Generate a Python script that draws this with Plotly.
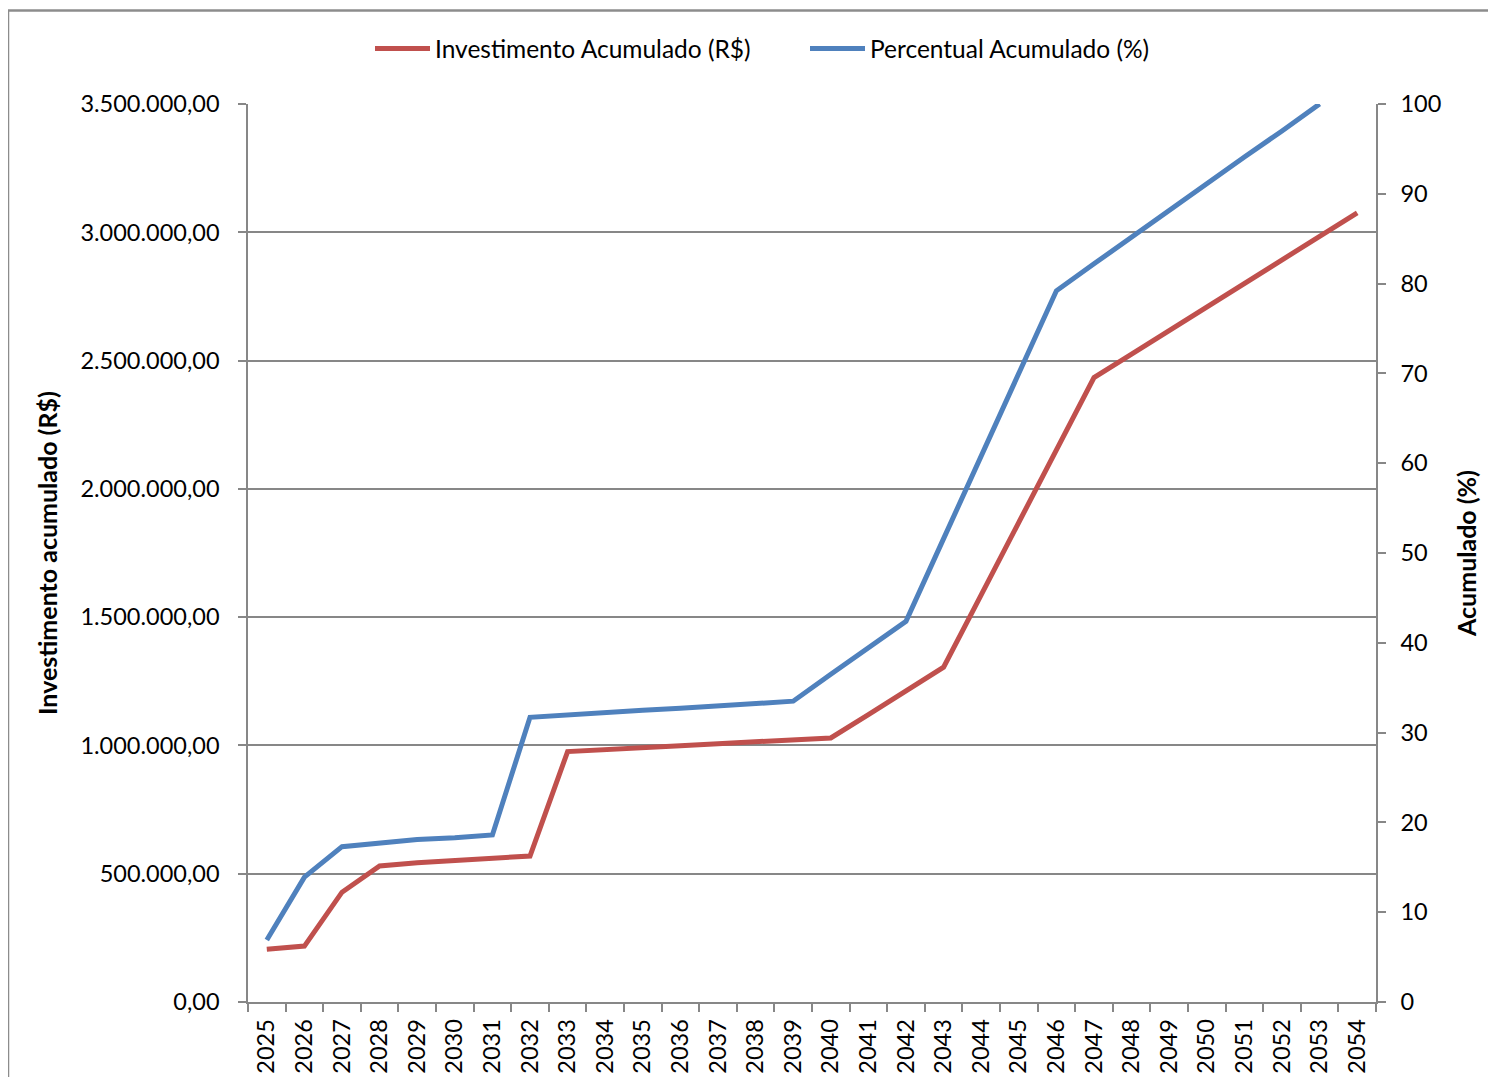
import plotly.graph_objects as go

years = [str(y) for y in range(2025, 2055)]

investimento = [
    206000, 218000, 428000, 530000, 543000, 553000, 561000, 569000,
    976000, 985000, 992000, 999000, 1007000, 1014000, 1021000, 1029000,
    1120000, 1212000, 1305000, 1587000, 1869000, 2150000, 2434000,
    2525000, 2616000, 2708000, 2800000, 2892000, 2984000, 3076000,
]

percentual = [
    6.9, 13.9, 17.3, 17.7, 18.1, 18.3, 18.6, 31.7,
    32.0, 32.2, 32.5, 32.7, 33.0, 33.2, 33.5, 36.5,
    39.5, 42.4, 51.6, 60.8, 70.0, 79.2, 82.2,
    85.2, 88.1, 91.1, 94.1, 97.0, 100.0, None,
]

left_ticks = [0, 500000, 1000000, 1500000, 2000000, 2500000, 3000000, 3500000]
right_ticks = list(range(0, 101, 10))

RED = "#C0504D"
BLUE = "#4F81BD"
GRID = "#878787"
FONT = "Lato, 'Open Sans', sans-serif"

fig = go.Figure()
fig.add_trace(go.Scatter(
    x=years, y=investimento, name="Investimento Acumulado (R$)",
    mode="lines", line=dict(color=RED, width=5), yaxis="y",
))
fig.add_trace(go.Scatter(
    x=years, y=percentual, name="Percentual Acumulado (%)",
    mode="lines", line=dict(color=BLUE, width=5), yaxis="y2",
))

W, H = 1480, 1069
ML, MR, MT, MB = 240, 112, 96, 75
pw = W - ML - MR
ph = H - MT - MB

def px_to_paper_x(px):
    return (px - ML) / pw

def px_to_paper_y(py):
    return (H - MB - py) / ph

fig.update_layout(
    width=W, height=H,
    margin=dict(l=ML, r=MR, t=MT, b=MB, autoexpand=False),
    paper_bgcolor="white", plot_bgcolor="white",
    separators=",.",
    font=dict(family=FONT, size=23, color="#000000"),
    showlegend=True,
    legend=dict(
        orientation="h", x=px_to_paper_x(362), y=px_to_paper_y(18),
        xanchor="left", yanchor="top",
        font=dict(family=FONT, size=24.5),
        entrywidth=365, itemwidth=55,
        bgcolor="rgba(0,0,0,0)",
    ),
    xaxis=dict(
        type="category", categoryorder="array", categoryarray=years,
        range=[-0.5, len(years) - 0.5], automargin=False,
        tickmode="array", tickvals=years, ticktext=years,
        tickangle=-90, tickson="boundaries",
        ticks="outside", ticklen=8, tickcolor=GRID, tickwidth=1.5,
        showline=True, linecolor=GRID, linewidth=1.5,
        showgrid=False, zeroline=False,
        tickfont=dict(family=FONT, size=23.5),
        ticklabelstandoff=6,
    ),
    yaxis=dict(
        range=[0, 3500000], tickmode="array", tickvals=left_ticks,
        tickformat=",.2f", automargin=False,
        ticks="outside", ticklen=8, tickcolor=GRID, tickwidth=1.5,
        showline=True, linecolor=GRID, linewidth=1.5,
        showgrid=True, gridcolor=GRID, gridwidth=1.5,
        zeroline=False,
        tickfont=dict(family=FONT, size=23.5),
        ticklabelstandoff=14,
        title=dict(text="<b>Investimento acumulado (R$)</b>",
                   font=dict(family=FONT, size=25), standoff=16),
    ),
    yaxis2=dict(
        overlaying="y", side="right", automargin=False,
        range=[0, 100], tickmode="array", tickvals=right_ticks,
        ticks="outside", ticklen=8, tickcolor=GRID, tickwidth=1.5,
        showline=True, linecolor=GRID, linewidth=1.5,
        showgrid=False, zeroline=False,
        tickfont=dict(family=FONT, size=23.5),
        ticklabelstandoff=10,
        title=dict(text="<b>Acumulado (%)</b>",
                   font=dict(family=FONT, size=25), standoff=18),
    ),
    shapes=[
        dict(type="line", xref="paper", yref="paper",
             x0=px_to_paper_x(0), x1=px_to_paper_x(W),
             y0=px_to_paper_y(2.5), y1=px_to_paper_y(2.5),
             line=dict(color="#8C8C8C", width=2.5)),
        dict(type="line", xref="paper", yref="paper",
             x0=px_to_paper_x(0), x1=px_to_paper_x(0),
             y0=px_to_paper_y(2.5), y1=px_to_paper_y(H),
             line=dict(color="#8C8C8C", width=2.5)),
    ],
)

fig.write_html("out.html")
